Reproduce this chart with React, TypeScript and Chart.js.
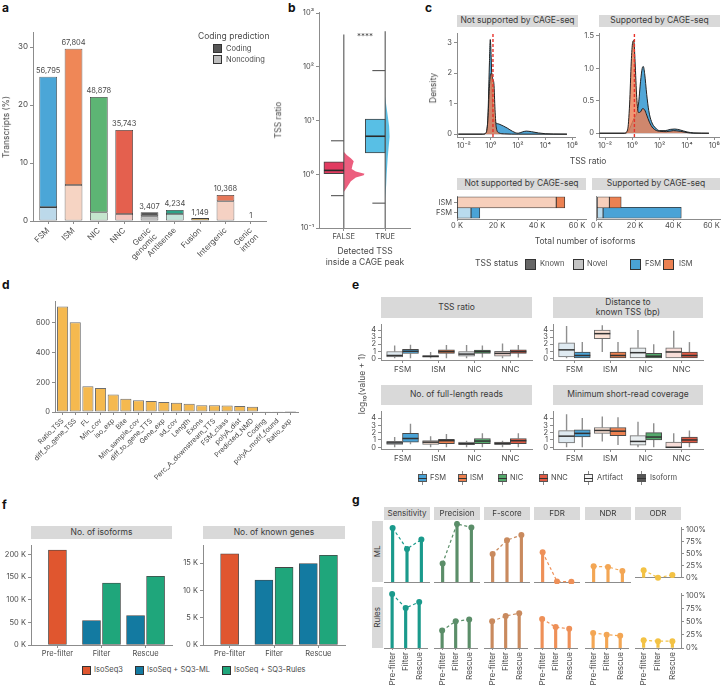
import React, { useEffect, useRef } from 'react';
import { Chart, registerables } from 'chart.js';

Chart.register(...registerables);

const FONT = 'Inter, "Noto Sans", "DejaVu Sans", sans-serif';
const TXT = '#4a4a4a';
const AXC = '#8c8c8c';
Chart.defaults.font.family = FONT;
Chart.defaults.font.size = 8;
Chart.defaults.color = TXT;

/* ---------------- panel a ---------------- */
const aCategories = [['FSM'], ['ISM'], ['NIC'], ['NNC'], ['Genic', 'genomic'], ['Antisense'], ['Fusion'], ['Intergenic'], ['Genic', 'intron']];
const aTotalPct = [24.9, 29.7, 21.4, 15.7, 1.5, 1.9, 0.5, 4.5, 0];
const aNoncodingPct = [2.4, 6.2, 1.5, 1.2, 0.8, 1.2, 0.1, 3.4, 0];
const aCountLabels = ['56,795', '67,804', '48,878', '35,743', '3,407', '4,234', '1,149', '10,368', '1'];
const aYTicks = [0, 10, 20, 30];
const aCodingColors = ['#4ba6d7', '#ef8757', '#5db574', '#e4604e', '#565656', '#2ca388', '#f4b73c', '#e6785a', '#9a9a9a'];
const aNoncodingColors = ['#bcd9ea', '#f6d4c3', '#c5e5ce', '#f2c5be', '#bebebe', '#c3e4da', '#f8dca0', '#f5d1c3', '#dddddd'];

/* ---------------- panel b ---------------- */
const bCats = ['FALSE', 'TRUE'];
const bQ1 = [1.0, 2.5];
const bMedian = [1.18, 5.1];
const bQ3 = [1.7, 10.7];
const bWhiskerLo = [0.4, 0.29];
const bWhiskerHi = [4.2, 85];
const bRangeMin = [0.1, 0.1];
const bRangeMax = [400, 460];
const bYTicks = [-1, 0, 1, 2, 3];
const bYTickLabels = ['10⁻¹', '10⁰', '10¹', '10²', '10³'];
const bViolinLog = [
  [-0.33, -0.25, -0.13, -0.06, -0.02, 0.01, 0.05, 0.1, 0.17, 0.24, 0.3, 0.36, 0.42],
  [-0.45, -0.2, 0, 0.3, 0.5, 0.7, 0.9, 1.1, 1.3, 1.45],
];
const bViolinHalfWidth = [
  [0, 0.07, 0.17, 0.29, 0.48, 0.5, 0.29, 0.19, 0.21, 0.24, 0.17, 0.07, 0],
  [0, 0.024, 0.036, 0.06, 0.083, 0.107, 0.095, 0.06, 0.024, 0],
];
const bBoxColors = ['#e13b60', '#58bfe5'];
const bViolinColors = ['#ec5e7e', '#5cc0e6'];

/* ---------------- panel c ---------------- */
const cXTicks = [-2, 0, 2, 4, 6];
const cXTickLabels = ['10⁻²', '10⁰', '10²', '10⁴', '10⁶'];
const cCageCutLog = 0.15;
const cNotFsmLog = [-2.4, -0.6, -0.35, -0.22, -0.12, -0.05, 0.02, 0.1, 0.2, 0.35, 0.6, 0.9, 1.2, 1.6, 2.0, 2.3, 2.6, 3.0, 3.5, 4.0, 4.6, 5.6];
const cNotFsmDens = [0, 0, 0.05, 0.6, 2.2, 3.1, 2.5, 1.2, 0.55, 0.38, 0.33, 0.27, 0.2, 0.09, 0.03, 0.07, 0.1, 0.08, 0.04, 0.015, 0.005, 0];
const cNotIsmLog = [-2.4, -0.6, -0.35, -0.22, -0.12, -0.03, 0.05, 0.14, 0.22, 0.3, 0.4, 0.6, 1.0, 2.0, 5.6];
const cNotIsmDens = [0, 0, 0.05, 0.5, 1.5, 1.95, 2.0, 1.8, 1.65, 0.8, 0.2, 0.04, 0.01, 0, 0];
const cSupFsmLog = [-2.4, -0.6, -0.3, -0.1, 0.1, 0.3, 0.45, 0.6, 0.72, 0.8, 0.9, 1.05, 1.2, 1.4, 1.7, 2.0, 2.4, 2.8, 3.1, 3.5, 4.0, 4.5, 5.6];
const cSupFsmDens = [0, 0, 0.03, 0.12, 0.22, 0.3, 0.45, 0.8, 1.0, 1.03, 0.92, 0.6, 0.35, 0.18, 0.08, 0.04, 0.04, 0.06, 0.065, 0.05, 0.02, 0.005, 0];
const cSupIsmLog = [-2.4, -0.6, -0.35, -0.2, -0.08, 0.02, 0.1, 0.2, 0.32, 0.45, 0.6, 0.75, 0.9, 1.05, 1.25, 1.5, 2.0, 2.5, 3.0, 3.5, 4.0, 4.5, 5.6];
const cSupIsmDens = [0, 0, 0.05, 0.45, 1.1, 1.4, 1.43, 1.1, 0.55, 0.32, 0.33, 0.38, 0.36, 0.28, 0.17, 0.08, 0.03, 0.025, 0.04, 0.03, 0.01, 0, 0];
const cNotYTicks = [0, 1, 2, 3];
const cSupYTicks = [0, 0.5, 1, 1.5];
const cSupYTickLabels = ['0', '0.5', '1.0', '1.5'];
const cBarCats = ['FSM', 'ISM'];
const cNotNovelK = [7.0, 49.6];
const cNotKnownK = [4.4, 4.3];
const cSupNovelK = [3.2, 6.5];
const cSupKnownK = [41.0, 6.2];
const cBarTicks = [0, 20, 40, 60];
const cBarTickLabels = ['0 K', '20 K', '40 K', '60 K'];
const cNovelColors = ['#b9dbee', '#f7cfbb'];
const cKnownColors = ['#4aa3d6', '#ec8152'];

/* ---------------- panel d ---------------- */
const dFeatures = ['Ratio_TSS', 'diff_to_gene_TSS', 'FL', 'Min_cov', 'iso_exp', 'Bite', 'Min_sample_cov', 'diff_to_gene_TTS', 'Gene_exp', 'sd_cov', 'Length', 'Exons', 'Perc_A_downstream_TTS', 'FSM_class', 'polyA_dist', 'Predicted_NMD', 'Coding', 'polyA_motif_found', 'Ratio_exp'];
const dImportance = [710, 604, 173, 162, 117, 90, 79, 74, 68, 63, 56, 45, 45, 43, 41, 36, 2, 1, 0.5];
const dYTicks = [0, 200, 400, 600];

/* ---------------- panel e ---------------- */
const eCats = ['FSM', 'ISM', 'NIC', 'NNC'];
const eYTicks = [0, 1, 2, 3, 4];
// [lower whisker, Q1, median, Q3, upper whisker] of log10(value + 1)
const eTssRatioArtifact = [[0, 0.2, 0.4, 0.96, 1.8], [0, 0.16, 0.28, 0.4, 0.9], [0, 0.3, 0.6, 0.95, 1.9], [0, 0.3, 0.7, 1.0, 2.1]];
const eTssRatioIsoform = [[0, 0.68, 1.0, 1.28, 1.92], [0, 0.7, 0.95, 1.2, 1.9], [0.1, 0.7, 0.95, 1.15, 1.8], [0.1, 0.7, 0.95, 1.2, 1.9]];
const eDistanceArtifact = [[0, 0.2, 1.2, 2.2, 4.6], [0.9, 2.8, 3.5, 4.0, 4.7], [0, 0, 0.8, 1.5, 4.0], [0, 0, 0.9, 1.5, 3.9]];
const eDistanceIsoform = [[0, 0, 0.4, 0.9, 2.3], [0, 0, 0.4, 0.9, 2.3], [0, 0, 0.3, 0.7, 2.0], [0, 0, 0.4, 0.9, 2.3]];
const eFlReadsArtifact = [[0, 0.4, 0.6, 0.8, 1.4], [0, 0.4, 0.7, 0.9, 1.5], [0, 0.35, 0.5, 0.7, 0.9], [0, 0.35, 0.55, 0.7, 0.9]];
const eFlReadsIsoform = [[0.4, 0.7, 1.2, 1.9, 3.2], [0, 0.5, 0.9, 1.1, 1.8], [0, 0.5, 0.85, 1.2, 1.9], [0, 0.5, 0.9, 1.2, 1.9]];
const eCoverageArtifact = [[0, 0.6, 1.52, 2.28, 4.5], [0.8, 1.9, 2.3, 2.7, 4.2], [0, 0.3, 0.8, 1.6, 3.5], [0, -0.1, 0, 0.7, 1.9]];
const eCoverageIsoform = [[0, 1.4, 1.9, 2.4, 4.0], [0.3, 1.6, 2.2, 2.7, 4.1], [0, 1.0, 1.4, 2.0, 3.3], [0, 0.6, 1.0, 1.4, 2.3]];
const eArtifactColors = ['#dfeaf1', '#fbe2d5', '#e9eef0', '#f8ddd8'];
const eIsoformColors = ['#4aa3d6', '#ed8150', '#55aa6c', '#df5a44'];

/* ---------------- panel f ---------------- */
const fStages = ['Pre-filter', 'Filter', 'Rescue'];
const fIsoformsIsoSeq3K = [210, null, null];
const fIsoformsMLK = [null, 54, 65];
const fIsoformsRulesK = [null, 137, 152];
const fGenesIsoSeq3K = [16.7, null, null];
const fGenesMLK = [null, 11.9, 14.9];
const fGenesRulesK = [null, 14.2, 16.4];
const fIsoTicks = [0, 50, 100, 150, 200];
const fIsoTickLabels = ['0 K', '50 K', '100 K', '150 K', '200 K'];
const fGeneTicks = [0, 5, 10, 15];
const fGeneTickLabels = ['0 K', '5 K', '10 K', '15 K'];
const fColors = ['#e0562f', '#137aa1', '#1fa67b'];

/* ---------------- panel g ---------------- */
const gMetrics = ['Sensitivity', 'Precision', 'F-score', 'FDR', 'NDR', 'ODR'];
const gStages = ['Pre-filter', 'Filter', 'Rescue'];
const gML = [[93, 57, 73], [32, 100, 94], [48, 72, 81], [51, 1, 0.5], [27, 26, 19], [16, 0.5, 6]];
const gRules = [[93, 69, 79], [30, 46, 49], [46, 55, 60], [50, 36, 33], [26, 23, 21], [15, 13, 13]];
const gYTicks = [0, 25, 50, 75, 100];
const gYTickLabels = ['0%', '25%', '50%', '75%', '100%'];
const gColors = ['#1a9a8c', '#5b8e69', '#c98a5e', '#ee9058', '#f3a654', '#f3c244'];

/* ---------------- helpers ---------------- */
const positions = (n: number) => Array.from({ length: n }, (_, i) => i + 1);

function ax(o: any): any {
  const sc: any = {
    type: 'linear',
    position: o.pos,
    min: o.min,
    max: o.max,
    offset: false,
    stacked: !!o.stacked,
    afterBuildTicks: (s: any) => { s.ticks = (o.ticks || []).map((v: number) => ({ value: v })); },
    afterFit: (s: any) => { if (s.isHorizontal()) s.height = o.size; else s.width = o.size; },
    ticks: {
      display: !o.noLabels,
      autoSkip: false,
      maxRotation: o.rot || 0,
      minRotation: o.rot || 0,
      padding: o.pad ?? 2,
      color: TXT,
      font: { size: o.font || 7.5, family: FONT, lineHeight: 1.1 },
      callback: (v: any, i: number) => (o.labels ? o.labels[i] : v),
    },
    grid: { display: true, offset: false, drawOnChartArea: false, drawTicks: (o.tick ?? 3) > 0, tickLength: o.tick ?? 3, color: AXC, lineWidth: 1 },
    border: { display: !o.noLine, color: AXC, width: 1 },
  };
  if (o.hide) sc.display = false;
  return sc;
}

function opts(pad: any, scales: any, extra: any = {}): any {
  return {
    responsive: false,
    animation: false,
    devicePixelRatio: 1,
    events: [],
    layout: { padding: { left: 0, right: 0, top: 0, bottom: 0, ...pad }, autoPadding: false },
    plugins: { legend: { display: false }, tooltip: { enabled: false } },
    scales,
    ...extra,
  };
}

const topLabels = (labels: string[], ds: number) => ({
  id: 'topLabels',
  afterDatasetsDraw(c: any) {
    const ctx = c.ctx;
    const meta = c.getDatasetMeta(ds);
    ctx.save();
    ctx.font = `7.5px ${FONT}`;
    ctx.fillStyle = TXT;
    ctx.textAlign = 'center';
    ctx.textBaseline = 'bottom';
    meta.data.forEach((el: any, i: number) => ctx.fillText(labels[i], el.x, el.y - 2));
    ctx.restore();
  },
});

const boxPlugin = {
  id: 'boxWhiskers',
  beforeDatasetsDraw(c: any) {
    const { ctx } = c;
    const y = c.scales.y;
    ctx.save();
    ctx.strokeStyle = '#8f8f8f';
    ctx.lineWidth = 1.4;
    c.data.datasets.forEach((ds: any, di: number) => {
      if (!ds.stats) return;
      c.getDatasetMeta(di).data.forEach((el: any, i: number) => {
        const s = ds.stats[i];
        ctx.beginPath();
        ctx.moveTo(el.x, y.getPixelForValue(s[0]));
        ctx.lineTo(el.x, y.getPixelForValue(s[1]));
        ctx.moveTo(el.x, y.getPixelForValue(s[3]));
        ctx.lineTo(el.x, y.getPixelForValue(s[4]));
        ctx.stroke();
      });
    });
    ctx.restore();
  },
  afterDatasetsDraw(c: any) {
    const { ctx } = c;
    const y = c.scales.y;
    ctx.save();
    ctx.strokeStyle = '#333';
    ctx.lineWidth = 1.5;
    c.data.datasets.forEach((ds: any, di: number) => {
      if (!ds.stats) return;
      c.getDatasetMeta(di).data.forEach((el: any, i: number) => {
        const py = y.getPixelForValue(ds.stats[i][2]);
        ctx.beginPath();
        ctx.moveTo(el.x - el.width / 2, py);
        ctx.lineTo(el.x + el.width / 2, py);
        ctx.stroke();
      });
    });
    ctx.restore();
  },
};

/* ---------------- chart configs ---------------- */
const cfgA = () => ({
  type: 'bar',
  data: {
    datasets: [
      { data: aCategories.map((_, i) => ({ x: i + 1, y: aNoncodingPct[i] })), backgroundColor: aNoncodingColors, borderColor: '#3d3d3d', borderWidth: 0.8, borderSkipped: false, barPercentage: 0.7, categoryPercentage: 1 },
      { data: aCategories.map((_, i) => ({ x: i + 1, y: aTotalPct[i] - aNoncodingPct[i] })), backgroundColor: aCodingColors, borderColor: '#3d3d3d', borderWidth: 0.8, borderSkipped: false, barPercentage: 0.7, categoryPercentage: 1 },
    ],
  },
  options: opts({ top: 32, right: 4 }, {
    x: ax({ min: 0.4, max: 9.6, ticks: positions(9), labels: aCategories, size: 44, rot: 45, font: 8, stacked: true }),
    y: ax({ min: 0, max: 32.6, ticks: aYTicks, size: 33, font: 8, stacked: true }),
  }),
  plugins: [topLabels(aCountLabels, 1)],
});

const violinPlugin = {
  id: 'violin',
  beforeDatasetsDraw(c: any) {
    const { ctx } = c;
    const x = c.scales.x, y = c.scales.y;
    ctx.save();
    bCats.forEach((_, i) => {
      const cx = i + 1;
      const logs = bViolinLog[i], ws = bViolinHalfWidth[i];
      ctx.beginPath();
      ctx.moveTo(x.getPixelForValue(cx), y.getPixelForValue(logs[0]));
      logs.forEach((l, k) => ctx.lineTo(x.getPixelForValue(cx + ws[k]), y.getPixelForValue(l)));
      ctx.lineTo(x.getPixelForValue(cx), y.getPixelForValue(logs[logs.length - 1]));
      ctx.closePath();
      ctx.fillStyle = bViolinColors[i];
      ctx.fill();
      ctx.strokeStyle = '#555';
      ctx.lineWidth = 1.1;
      ctx.beginPath();
      ctx.moveTo(x.getPixelForValue(cx), y.getPixelForValue(Math.log10(bRangeMin[i])));
      ctx.lineTo(x.getPixelForValue(cx), y.getPixelForValue(Math.log10(bRangeMax[i])));
      ctx.stroke();
      [bWhiskerLo[i], bWhiskerHi[i]].forEach((v) => {
        ctx.beginPath();
        ctx.moveTo(x.getPixelForValue(cx - 0.31), y.getPixelForValue(Math.log10(v)));
        ctx.lineTo(x.getPixelForValue(cx), y.getPixelForValue(Math.log10(v)));
        ctx.stroke();
      });
    });
    ctx.restore();
  },
  afterDatasetsDraw(c: any) {
    const { ctx } = c;
    const x = c.scales.x, y = c.scales.y;
    ctx.save();
    ctx.strokeStyle = '#2a2a2a';
    ctx.lineWidth = 1.6;
    bCats.forEach((_, i) => {
      const py = y.getPixelForValue(Math.log10(bMedian[i]));
      ctx.beginPath();
      ctx.moveTo(x.getPixelForValue(i + 1 - 0.48), py);
      ctx.lineTo(x.getPixelForValue(i + 1), py);
      ctx.stroke();
    });
    ctx.restore();
  },
};

const cfgB = () => ({
  type: 'bar',
  data: {
    datasets: [{
      data: bCats.map((_, i) => ({ x: i + 1 - 0.24, y: [Math.log10(bQ1[i]), Math.log10(bQ3[i])] })),
      backgroundColor: bBoxColors, borderColor: '#444', borderWidth: 1, borderSkipped: false, barThickness: 20, grouped: false,
    }],
  },
  options: opts({ top: 12, right: 15 }, {
    x: ax({ min: 0.4, max: 2.6, ticks: [1, 2], labels: bCats, size: 44, font: 7.5 }),
    y: ax({ min: -1, max: 3.02, ticks: bYTicks, labels: bYTickLabels, size: 49, font: 7.5 }),
  }),
  plugins: [violinPlugin],
});

const densLine = (xs: number[], ys: number[], fill: string, order: number) => ({
  data: xs.map((v, i) => ({ x: v, y: ys[i] })),
  borderColor: '#222', borderWidth: 1, backgroundColor: fill, fill: 'origin', pointRadius: 0,
  cubicInterpolationMode: 'monotone', order,
});

const cfgDens = (fsmX: number[], fsmY: number[], ismX: number[], ismY: number[], xmin: number, xmax: number, ymin: number, ymax: number, yTicks: number[], yLabels: any, yW: number) => () => ({
  type: 'line',
  data: {
    datasets: [
      { data: [{ x: cCageCutLog, y: ymin }, { x: cCageCutLog, y: ymax }], borderColor: '#e8322b', borderDash: [3, 2], borderWidth: 1.4, pointRadius: 0, fill: false, order: 0 },
      densLine(ismX, ismY, 'rgba(236,128,86,0.82)', 1),
      densLine(fsmX, fsmY, 'rgba(72,162,214,0.95)', 2),
    ],
  },
  options: opts({ right: 2 }, {
    x: ax({ min: xmin, max: xmax, ticks: cXTicks, labels: cXTickLabels, size: 15, font: 7.5 }),
    y: ax({ min: ymin, max: ymax, ticks: yTicks, labels: yLabels, size: yW, font: 7.5 }),
  }),
});

const cfgCBar = (novel: number[], known: number[], yW: number, showY: boolean) => () => ({
  type: 'bar',
  data: {
    datasets: [
      { data: cBarCats.map((_, i) => ({ y: i + 1, x: novel[i] })), backgroundColor: cNovelColors, borderColor: '#333', borderWidth: 0.8, borderSkipped: false, barThickness: 11 },
      { data: cBarCats.map((_, i) => ({ y: i + 1, x: known[i] })), backgroundColor: cKnownColors, borderColor: '#333', borderWidth: 0.8, borderSkipped: false, barThickness: 11 },
    ],
  },
  options: opts({ right: 2 }, {
    x: ax({ min: 0, max: 64.5, ticks: cBarTicks, labels: cBarTickLabels, size: 13, font: 7.5, stacked: true, tick: 2, pad: 1 }),
    y: ax({ min: 0.4, max: 2.6, ticks: [1, 2], labels: showY ? cBarCats : ['', ''], size: yW, font: 7.5, stacked: true, tick: showY ? 3 : 0 }),
  }, { indexAxis: 'y' }),
});

const cfgD = () => ({
  type: 'bar',
  data: {
    datasets: [{
      data: dFeatures.map((_, i) => ({ x: i + 1, y: dImportance[i] })),
      backgroundColor: '#f5b94f', borderColor: '#6e6e6e', borderWidth: 1, borderSkipped: false, barPercentage: 0.88, categoryPercentage: 1,
    }],
  },
  options: opts({ top: 11, right: 2 }, {
    x: ax({ min: 0.4, max: 19.6, ticks: positions(19), labels: dFeatures, size: 78, rot: 45, font: 7 }),
    y: ax({ min: 0, max: 747, ticks: dYTicks, size: 55, font: 7.5 }),
  }),
});

const cfgE = (art: number[][], iso: number[][], yW: number, ymin: number, ymax: number) => () => ({
  type: 'bar',
  data: {
    datasets: [
      { data: eCats.map((_, i) => ({ x: i + 1 - 0.22, y: [art[i][1], art[i][3]] })), stats: art, backgroundColor: eArtifactColors, borderColor: '#6b6b6b', borderWidth: 1, borderSkipped: false, barThickness: 16, grouped: false },
      { data: eCats.map((_, i) => ({ x: i + 1 + 0.22, y: [iso[i][1], iso[i][3]] })), stats: iso, backgroundColor: eIsoformColors, borderColor: '#4a4a4a', borderWidth: 1, borderSkipped: false, barThickness: 16, grouped: false },
    ],
  },
  options: opts({ right: 2 }, {
    x: ax({ min: 0.4, max: 4.6, ticks: positions(4), labels: eCats, size: 16, font: 8 }),
    y: ax({ min: ymin, max: ymax, ticks: eYTicks, size: yW, font: 7.5 }),
  }),
  plugins: [boxPlugin],
});

const fSeries = (arr: (number | null)[], off: number) =>
  arr.map((v, i) => (v == null ? null : { x: i + 1 + off, y: v })).filter((d) => d !== null);

const cfgF = (pre: any[], ml: any[], rules: any[], ymax: number, ticks: number[], labels: string[], yW: number) => () => ({
  type: 'bar',
  data: {
    datasets: [
      { data: fSeries(pre, 0), backgroundColor: fColors[0] },
      { data: fSeries(ml, -0.227), backgroundColor: fColors[1] },
      { data: fSeries(rules, 0.227), backgroundColor: fColors[2] },
    ].map((d) => ({ ...d, borderColor: '#454545', borderWidth: 0.8, borderSkipped: false, barThickness: 18, grouped: false })),
  },
  options: opts({ right: 2 }, {
    x: ax({ min: 0.4, max: 3.6, ticks: positions(3), labels: fStages, size: 16, font: 7.5 }),
    y: ax({ min: 0, max: ymax, ticks, labels, size: yW, font: 7.5 }),
  }),
});

const cfgG = (i: number, row: number) => () => {
  const vals = row === 0 ? gML[i] : gRules[i];
  const pts = vals.map((v, k) => ({ x: k + 1, y: v }));
  const yAx = i === 5
    ? ax({ min: 0, max: 105, ticks: gYTicks, labels: gYTickLabels, size: 26, pos: 'right', font: 7.5 })
    : ax({ min: 0, max: 105, ticks: gYTicks, size: 0, hide: true });
  return {
    type: 'bar',
    data: {
      datasets: [
        { type: 'line', data: pts, borderColor: gColors[i], borderDash: [3, 2.5], borderWidth: 1.2, pointRadius: 3, pointBackgroundColor: gColors[i], pointBorderWidth: 0, fill: false, order: 0, clip: false },
        { type: 'bar', data: pts, backgroundColor: gColors[i], barThickness: 2.5, grouped: false, order: 1 },
      ],
    },
    options: opts({}, {
      x: ax({ min: 0.4, max: 3.6, ticks: positions(3), labels: gStages, size: row === 1 ? 43 : 2, rot: 90, font: 8, noLabels: row === 0, tick: row === 1 ? 2 : 0 }),
      y: yAx,
    }),
  };
};

/* ---------------- components ---------------- */
function Cv({ x, y, w, h, make }: any) {
  const ref = useRef<HTMLCanvasElement | null>(null);
  useEffect(() => {
    if (!ref.current) return;
    const chart = new Chart(ref.current, make());
    return () => chart.destroy();
  }, []);
  return <canvas ref={ref} width={w} height={h} style={{ position: 'absolute', left: x, top: y, width: w, height: h, display: 'block' }} />;
}

function T({ x, y, t, s = 8.5, a = 'left', b = false, rot = 0, c = TXT }: any) {
  const tx = a === 'center' ? '-50%' : a === 'right' ? '-100%' : '0%';
  return (
    <div style={{ position: 'absolute', left: x, top: y, transform: `translate(${tx}, -50%)${rot ? ` rotate(${rot}deg)` : ''}`, fontSize: s, fontWeight: b ? 700 : 400, color: c, whiteSpace: 'pre', lineHeight: 1.15 }}>{t}</div>
  );
}

function Strip({ x, y, w, h, t, s = 8.5, rot = false }: any) {
  return (
    <div style={{ position: 'absolute', left: x, top: y, width: w, height: h, background: '#d9d9d9', display: 'flex', alignItems: 'center', justifyContent: 'center', textAlign: 'center', fontSize: s, lineHeight: 1.1, color: '#3a3a3a', whiteSpace: 'pre' }}>
      {rot ? <span style={{ transform: 'rotate(-90deg)', whiteSpace: 'nowrap' }}>{t}</span> : t}
    </div>
  );
}

function Sw({ x, y, c, w = 9, h = 9 }: any) {
  return <div style={{ position: 'absolute', left: x, top: y, width: w, height: h, background: c, border: '1px solid #333', boxSizing: 'border-box' }} />;
}

function BoxIcon({ x, y, c }: any) {
  return (
    <div style={{ position: 'absolute', left: x, top: y - 7, width: 9, height: 14 }}>
      <div style={{ position: 'absolute', left: 4, top: 0, width: 1, height: 14, background: '#888' }} />
      <div style={{ position: 'absolute', left: 0, top: 3, width: 9, height: 8, background: c, border: '1px solid #555', boxSizing: 'border-box' }} />
      <div style={{ position: 'absolute', left: 0, top: 6.5, width: 9, height: 1.3, background: '#333' }} />
    </div>
  );
}

const gFacetLeft = [384, 434, 484, 534, 585, 635];

export default function App() {
  return (
    <div style={{ position: 'absolute', left: 0, top: 0, width: 722, height: 691, background: '#fff', overflow: 'hidden', fontFamily: FONT, color: TXT }}>
      {/* panel letters */}
      <T x={2} y={8} t="a" s={12} b c="#111" />
      <T x={288} y={8} t="b" s={12} b c="#111" />
      <T x={425} y={8} t="c" s={12} b c="#111" />
      <T x={2} y={285} t="d" s={12} b c="#111" />
      <T x={352} y={285} t="e" s={12} b c="#111" />
      <T x={2} y={505} t="f" s={12} b c="#111" />
      <T x={352} y={500} t="g" s={12} b c="#111" />

      {/* a */}
      <Cv x={0} y={0} w={270} h={265} make={cfgA} />
      <T x={7} y={127} t="Transcripts (%)" a="center" rot={-90} s={8.5} />
      <T x={198} y={37} t="Coding prediction" s={8.5} />
      <Sw x={213} y={44} c={aCodingColors[4]} />
      <T x={226} y={48.5} t="Coding" s={7.5} />
      <Sw x={213} y={55} c={aNoncodingColors[4]} />
      <T x={226} y={59.5} t="Noncoding" s={7.5} />

      {/* b */}
      <Cv x={270} y={0} w={155} h={272} make={cfgB} />
      <T x={279} y={120} t="TSS ratio" a="center" rot={-90} s={8.5} />
      <T x={365} y={37} t="****" a="center" s={8} />
      <T x={365} y={252} t="Detected TSS" a="center" s={8.5} />
      <T x={365} y={263} t="inside a CAGE peak" a="center" s={8.5} />

      {/* c densities */}
      <Strip x={457} y={15} w={121} h={12} t="Not supported by CAGE-seq" />
      <Strip x={599} y={15} w={121} h={12} t="Supported by CAGE-seq" />
      <Cv x={425} y={27} w={155} h={125} make={cfgDens(cNotFsmLog, cNotFsmDens, cNotIsmLog, cNotIsmDens, -2.5, 6.22, -0.093, 3.31, cNotYTicks, null, 32)} />
      <Cv x={580} y={27} w={142} h={125} make={cfgDens(cSupFsmLog, cSupFsmDens, cSupIsmLog, cSupIsmDens, -2.44, 6.36, -0.058, 1.544, cSupYTicks, cSupYTickLabels, 19)} />
      <T x={434} y={88} t="Density" a="center" rot={-90} s={8.5} />
      <T x={588} y={162} t="TSS ratio" a="center" s={8.5} />

      {/* c bars */}
      <Strip x={457} y={178} w={129} h={12} t="Not supported by CAGE-seq" />
      <Strip x={592} y={178} w={128} h={12} t="Supported by CAGE-seq" />
      <Cv x={425} y={190} w={163} h={42} make={cfgCBar(cNotNovelK, cNotKnownK, 32, true)} />
      <Cv x={590} y={190} w={132} h={42} make={cfgCBar(cSupNovelK, cSupKnownK, 2, false)} />
      <T x={585} y={242} t="Total number of isoforms" a="center" s={8.5} />
      <T x={475} y={264} t="TSS status" s={8.5} />
      <Sw x={525} y={258.5} c="#666666" w={11} h={11} />
      <T x={540} y={264} t="Known" s={7.5} />
      <Sw x={573} y={258.5} c="#c4c4c4" w={11} h={11} />
      <T x={587} y={264} t="Novel" s={7.5} />
      <Sw x={630} y={258.5} c={cKnownColors[0]} w={11} h={11} />
      <T x={645} y={264} t="FSM" s={7.5} />
      <Sw x={663} y={258.5} c={cKnownColors[1]} w={11} h={11} />
      <T x={679} y={264} t="ISM" s={7.5} />

      {/* d */}
      <Cv x={0} y={290} w={300} h={200} make={cfgD} />

      {/* e */}
      <Strip x={381} y={297} w={151} h={21} t="TSS ratio" />
      <Strip x={553} y={297} w={150} h={21} t={'Distance to\nknown TSS (bp)'} />
      <Strip x={381} y={385} w={151} h={20} t="No. of full-length reads" />
      <Strip x={553} y={385} w={150} h={20} t="Minimum short-read coverage" />
      <Cv x={350} y={318} w={184} h={58} make={cfgE(eTssRatioArtifact, eTssRatioIsoform, 31, -0.24, 4.85)} />
      <Cv x={535} y={318} w={170} h={58} make={cfgE(eDistanceArtifact, eDistanceIsoform, 18, -0.24, 4.85)} />
      <Cv x={350} y={405} w={184} h={60} make={cfgE(eFlReadsArtifact, eFlReadsIsoform, 31, -0.235, 4.94)} />
      <Cv x={535} y={405} w={170} h={60} make={cfgE(eCoverageArtifact, eCoverageIsoform, 18, -0.235, 4.94)} />
      <T x={363} y={384} t="log₁₀(value + 1)" a="center" rot={-90} s={8.5} />
      <BoxIcon x={418} y={478} c={eIsoformColors[0]} />
      <T x={430} y={478} t="FSM" s={7.5} />
      <BoxIcon x={458} y={478} c={eIsoformColors[1]} />
      <T x={470} y={478} t="ISM" s={7.5} />
      <BoxIcon x={498} y={478} c={eIsoformColors[2]} />
      <T x={510} y={478} t="NIC" s={7.5} />
      <BoxIcon x={539} y={478} c={eIsoformColors[3]} />
      <T x={551} y={478} t="NNC" s={7.5} />
      <BoxIcon x={584} y={478} c="#f4f4f4" />
      <T x={597} y={478} t="Artifact" s={7.5} />
      <BoxIcon x={637} y={478} c="#555555" />
      <T x={650} y={478} t="Isoform" s={7.5} />

      {/* f */}
      <Strip x={31} y={526} w={141} h={13} t="No. of isoforms" />
      <Strip x={203} y={526} w={142} h={13} t="No. of known genes" />
      <Cv x={0} y={539} w={174} h={122} make={cfgF(fIsoformsIsoSeq3K, fIsoformsMLK, fIsoformsRulesK, 220.8, fIsoTicks, fIsoTickLabels, 31)} />
      <Cv x={174} y={539} w={173} h={122} make={cfgF(fGenesIsoSeq3K, fGenesMLK, fGenesRulesK, 18.28, fGeneTicks, fGeneTickLabels, 29)} />
      <Sw x={82} y={665.5} c={fColors[0]} />
      <T x={94} y={670} t="IsoSeq3" s={7.5} />
      <Sw x={135} y={665.5} c={fColors[1]} />
      <T x={147} y={670} t="IsoSeq + SQ3-ML" s={7.5} />
      <Sw x={222} y={665.5} c={fColors[2]} />
      <T x={234} y={670} t="IsoSeq + SQ3-Rules" s={7.5} />

      {/* g */}
      {gMetrics.map((m, i) => (
        <Strip key={'gs' + i} x={gFacetLeft[i]} y={507} w={46} h={13} t={m} s={8} />
      ))}
      <Strip x={372} y={521} w={11} h={61} t="ML" rot s={8} />
      <Strip x={372} y={587} w={11} h={61} t="Rules" rot s={8} />
      {gMetrics.map((m, i) => (
        <Cv key={'gm' + i} x={gFacetLeft[i]} y={521} w={i === 5 ? 72 : 46} h={63} make={cfgG(i, 0)} />
      ))}
      {gMetrics.map((m, i) => (
        <Cv key={'gr' + i} x={gFacetLeft[i]} y={587} w={i === 5 ? 72 : 46} h={104} make={cfgG(i, 1)} />
      ))}
    </div>
  );
}
